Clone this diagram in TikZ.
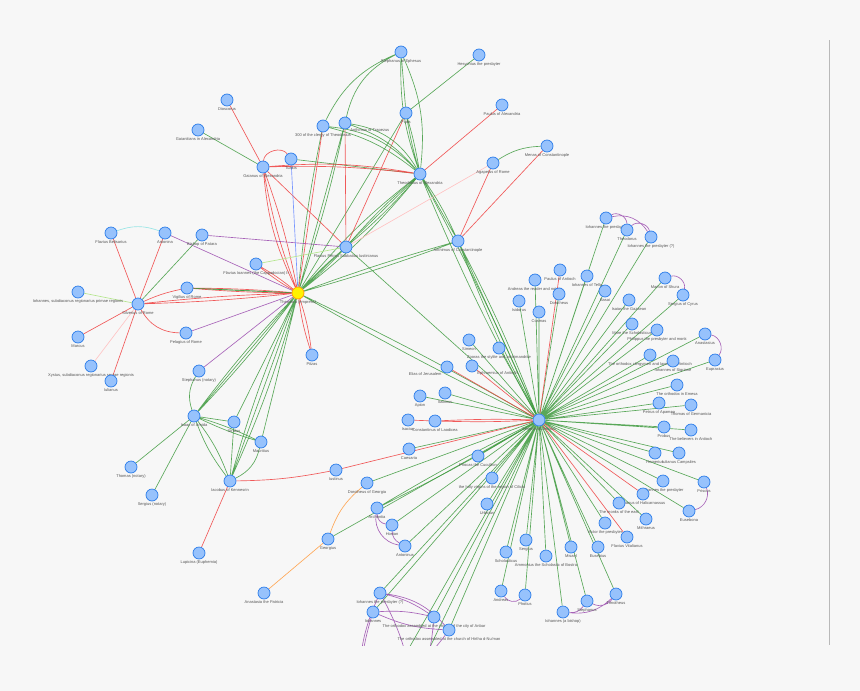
\documentclass[tikz,border=0pt]{standalone}
\usepackage{fontspec}
\setmainfont{Liberation Sans}
\usetikzlibrary{backgrounds}
\definecolor{nodeblue}{HTML}{97C2FC}
\definecolor{nodeedge}{HTML}{2B7CE9}
\definecolor{bggray}{HTML}{F7F7F7}
\definecolor{egreen}{HTML}{3E9A3E}
\definecolor{ered}{HTML}{F04848}
\definecolor{epurple}{HTML}{9A4AAE}
\definecolor{eorange}{HTML}{FFA858}
\definecolor{elgreen}{HTML}{B4E68C}
\definecolor{ecyan}{HTML}{9AE6E6}
\definecolor{epink}{HTML}{FFC4C4}
\definecolor{eblue}{HTML}{7896FF}
\definecolor{lblgray}{HTML}{555555}

\begin{document}
\begin{tikzpicture}[x=1pt, y=-1pt,
    person/.style={circle, draw=nodeedge, fill=nodeblue, line width=0.7pt, minimum size=12pt, inner sep=0pt},
    empress/.style={person, draw=orange!80!yellow, fill=yellow},
    lbl/.style={font=\fontsize{4}{4.5}\selectfont, text=lblgray, inner sep=0.8pt},
    gl/.style={egreen, line width=0.65pt, opacity=0.85},
    rl/.style={ered, line width=0.65pt, opacity=0.9},
    pl/.style={epurple, line width=0.65pt, opacity=0.85},
    ol/.style={eorange, line width=0.65pt}]

    \useasboundingbox (0,0) rectangle (860,691);

    % --- Nhóm trên: Alexandria ---
    \node[person, label={[lbl]below:Stephanus of Ephesus}] (steph) at (401,52) {};
    \node[person, label={[lbl]below:Hesychius the presbyter}] (hesy) at (479,55) {};
    \node[person, label={[lbl]below:Fuda}] (fuda) at (406,113) {};
    \node[person, label={[lbl]below:Paulus of Alexandria}] (paulal) at (502,105) {};
    \node[person, label={[lbl]below:Menas of Constantinople}] (menas) at (547,146) {};
    \node[person, label={[lbl]below:Agapetus of Rome}] (agap) at (493,163) {};
    \node[person, label={[lbl]below:Theodosius of Alexandria}] (theo) at (420,174) {};
    \node[person, label={[lbl]below:Dioscorus}] (dios) at (227,100) {};
    \node[person, label={[lbl]below:Gaianitians in Alexandria}] (gaiani) at (198,130) {};
    \node[person, label={[lbl]below:Gaianus of Alexandria}] (gaian) at (263,167) {};
    \node[person, label={[lbl]below:Tuakis}] (tuak) at (291,159) {};
    \node[person, label={[lbl]below:300 of the clergy of Theodosius}] (cler) at (323,126) {};
    \node[person, label={[lbl]below right:Anthimus of Trapezus}] (anthtr) at (345,123) {};
    \node[person, label={[lbl]below:Flavius Petrus Sabbatius Iustinianus}] (iust) at (346,247) {};
    \node[person, label={[lbl]below:Anthimus of Constantinople}] (anth) at (458,241) {};

    % --- Nhóm trái: Roma ---
    \node[person, label={[lbl]below:Flavius Belisarius}] (belis) at (111,233) {};
    \node[person, label={[lbl]below:Antonina}] (anton) at (165,233) {};
    \node[person, label={[lbl]below:Bishop of Patara}] (patara) at (202,235) {};
    \node[person, label={[lbl]below:Flavius Ioannes (the Cappadocian) II}] (fioann) at (256,264) {};
    \node[person, label={[lbl]below:Vigilius of Rome}] (vigil) at (187,288) {};
    \node[person, label={[lbl]below:Silverius of Rome}] (silv) at (138,304) {};
    \node[person, label={[lbl]below:Iohannes, subdiaconus regionarius primae regionis}] (johsub) at (78,292) {};
    \node[person, label={[lbl]below:Pelagius of Rome}] (pelag) at (186,333) {};
    \node[person, label={[lbl]below:Marcus}] (marcus) at (78,337) {};
    \node[person, label={[lbl]below:Xystus, subdiaconus regionarius sextae regionis}] (xystus) at (91,366) {};
    \node[person, label={[lbl]below:Iulianus}] (iulian) at (111,381) {};
    \node[person, label={[lbl]below:Stephanus (notary)}] (stephn) at (199,371) {};
    \node[empress, label={[lbl]below:Theodora (empress)}] (theod) at (298,293) {};
    \node[person, label={[lbl]below:Pitzas}] (pitzas) at (312,355) {};

    % --- Nhóm dưới trái ---
    \node[person, label={[lbl]below:Isaac of Amida}] (isaac) at (194,416) {};
    \node[person, label={[lbl]below:Stratus}] (stratus) at (234,422) {};
    \node[person, label={[lbl]below:Mauritius}] (mauric) at (261,442) {};
    \node[person, label={[lbl]below:Thomas (notary)}] (thomn) at (131,467) {};
    \node[person, label={[lbl]below:Sergius (notary)}] (sergn) at (152,495) {};
    \node[person, label={[lbl]below:Iacobus of Kennesrin}] (iacob) at (230,481) {};
    \node[person, label={[lbl]below:Lupicina (Euphemia)}] (lupic) at (199,553) {};
    \node[person, label={[lbl]below:Iustinus}] (iustin) at (336,470) {};
    \node[person, label={[lbl]below:Georgius}] (georg) at (328,539) {};
    \node[person, label={[lbl]below:Anastasia the Patricia}] (anast) at (264,593) {};
    \node[person, label={[lbl]below:Dorotheus of Georgia}] (dorg) at (367,483) {};

    % --- Trung tâm: Severus ---
    \node[person, label={[lbl]below:Severus of Antioch}] (hub) at (539,420) {};
    \node[person, label={[lbl]below:Paulus of Antioch}] (paulant) at (560,270) {};
    \node[person, label={[lbl]below:Andreas the reader and notary}] (andrn) at (535,280) {};
    \node[person, label={[lbl]below:Isidorus}] (isid) at (519,301) {};
    \node[person, label={[lbl]below:Dorotheus}] (dorot) at (559,294) {};
    \node[person, label={[lbl]below:Cosmas}] (cosmas) at (539,312) {};
    \node[person, label={[lbl]below:Simeon}] (simeon) at (469,340) {};
    \node[person, label={[lbl]below:Zooras the stylite and archimandrite}] (zooras) at (499,348) {};
    \node[person, label={[lbl]below left:Elias of Jerusalem}] (cyrus) at (447,367) {};
    \node[person, label={[lbl]below right:Ephraemius of Antioch}] (ephr) at (472,366) {};
    \node[person, label={[lbl]below:Apion}] (apion) at (420,396) {};
    \node[person, label={[lbl]below:Sabinus}] (sabin) at (445,393) {};
    \node[person, label={[lbl]below:Isacius}] (isac) at (408,420) {};
    \node[person, label={[lbl]below:Constantinus of Laodicea}] (const) at (435,421) {};
    \node[person, label={[lbl]below:Caesaria}] (caes) at (409,449) {};
    \node[person, label={[lbl]below:Phocas the Cucullion}] (phocas) at (478,456) {};
    \node[person, label={[lbl]below:the holy virgins of the region of Cilicia}] (virg) at (492,478) {};
    \node[person, label={[lbl]below:Urbicius}] (urbic) at (487,504) {};
    \node[person, label={[lbl]below:Archontia}] (archon) at (377,508) {};
    \node[person, label={[lbl]below:Hosian}] (hosian) at (392,525) {};
    \node[person, label={[lbl]below:Antoninus}] (antonin) at (405,546) {};

    % --- Nhóm phải ---
    \node[person, label={[lbl]below:Iohannes the presbyter}] (iohpr) at (606,218) {};
    \node[person, label={[lbl]below:Theodorus}] (theodor) at (627,230) {};
    \node[person, label={[lbl]below:Iohannes the presbyter (?)}] (iohprq) at (651,237) {};
    \node[person, label={[lbl]below:Iohannes of Tella}] (iohtel) at (587,276) {};
    \node[person, label={[lbl]below:Basai}] (basai) at (605,291) {};
    \node[person, label={[lbl]below:Marion of Shura}] (marion) at (665,278) {};
    \node[person, label={[lbl]below:Sergius of Cyrus}] (sergcyr) at (683,295) {};
    \node[person, label={[lbl]below:Isaias the Gazaean}] (gaza) at (629,300) {};
    \node[person, label={[lbl]below:Mare the Scholasticus}] (mare) at (632,324) {};
    \node[person, label={[lbl]below:Philippus the presbyter and monk}] (phil) at (657,330) {};
    \node[person, label={[lbl]below:Anastasius}] (anastas) at (705,334) {};
    \node[person, label={[lbl]below:Eupraxius}] (eupr) at (715,360) {};
    \node[person, label={[lbl]below:The orthodox clergymen and laymen of Antioch}] (orthant) at (650,355) {};
    \node[person, label={[lbl]below:Iohannes of Sigriane}] (iohsig) at (673,361) {};
    \node[person, label={[lbl]below:The orthodox in Emesa}] (emesa) at (677,385) {};
    \node[person, label={[lbl]below:Petrus of Apamea}] (petrap) at (659,403) {};
    \node[person, label={[lbl]below:Thomas of Germanicia}] (thomger) at (691,405) {};
    \node[person, label={[lbl]below:Probus}] (probus) at (664,427) {};
    \node[person, label={[lbl]below:The believers in Antioch}] (beliant) at (691,430) {};
    \node[person, label={[lbl]below:Hemerius}] (hemer) at (655,453) {};
    \node[person, label={[lbl]below:Iulianus Campsiles}] (camps) at (679,453) {};
    \node[person, label={[lbl]below:Iohannes the presbyter}] (iohpr3) at (663,481) {};
    \node[person, label={[lbl]below:Priscus}] (priscus) at (704,482) {};
    \node[person, label={[lbl]below:Iulianus of Halicarnassus}] (iulhal) at (643,494) {};
    \node[person, label={[lbl]below:The monks of the east}] (monks) at (619,503) {};
    \node[person, label={[lbl]below:Mithraeus}] (mithr) at (646,519) {};
    \node[person, label={[lbl]below:Eusebona}] (euseb) at (689,511) {};
    \node[person, label={[lbl]below:Victor the presbyter}] (victor) at (605,523) {};
    \node[person, label={[lbl]below:Flavius Vitalianus}] (vital) at (627,537) {};

    % --- Nhóm dưới ---
    \node[person, label={[lbl]below:Misael}] (misael) at (571,547) {};
    \node[person, label={[lbl]below:Eusebius}] (eusebius) at (598,547) {};
    \node[person, label={[lbl]below:Scholasticus}] (schol) at (506,552) {};
    \node[person, label={[lbl]below:Sergius}] (sergius) at (526,540) {};
    \node[person, label={[lbl]below:Ammonius the Scholastic of Bostra}] (ammon) at (546,556) {};
    \node[person, label={[lbl]below:Andreas}] (andreas) at (501,591) {};
    \node[person, label={[lbl]below:Photius}] (photius) at (525,595) {};
    \node[person, label={[lbl]below:Iohannes (a bishop)}] (iohbis) at (563,612) {};
    \node[person, label={[lbl]below:Stephanus}] (steph2) at (587,601) {};
    \node[person, label={[lbl]below:Timotheus}] (timoth) at (616,594) {};
    \node[person, label={[lbl]below:Iohannes the presbyter (?)}] (iohq) at (380,593) {};
    \node[person, label={[lbl]below:Iohannes}] (iohan) at (373,612) {};
    \node[person, label={[lbl]below:The orthodox assembled at the church of the city of Anbar}] (anbar) at (434,617) {};
    \node[person, label={[lbl]below:The orthodox assembled at the church of Hirtha d-Nu'man}] (hirta) at (449,630) {};

    % điểm ngoài khung (bị cắt)
    \coordinate (offa) at (368,720);
    \coordinate (offb) at (395,720);
    \coordinate (offc) at (362,700);
    \coordinate (offd) at (412,700);

    \begin{pgfonlayer}{background}
    \fill[bggray] (0,0) rectangle (860,691);
    \draw[gray!55, line width=0.9pt] (829,40) -- (829,645);
    \begin{scope}
    \clip (0,0) rectangle (829,645);

    % --- Cạnh xanh lá từ Severus ---
    \draw[gl] (hub) -- (isid) (hub) -- (andrn) (hub) -- (dorot) (hub) -- (cosmas) (hub) -- (iohtel)
        (hub) -- (iohpr) (hub) -- (theodor) (hub) -- (iohprq) (hub) -- (basai) (hub) -- (marion)
        (hub) -- (sergcyr) (hub) -- (gaza) (hub) -- (mare) (hub) -- (phil) (hub) -- (anastas)
        (hub) -- (eupr) (hub) -- (orthant) (hub) -- (iohsig) (hub) -- (emesa) (hub) -- (petrap)
        (hub) -- (thomger) (hub) -- (probus) (hub) -- (beliant) (hub) -- (hemer) (hub) -- (camps)
        (hub) -- (iohpr3) (hub) -- (priscus) (hub) -- (monks) (hub) -- (mithr) (hub) -- (euseb)
        (hub) -- (victor) (hub) -- (misael) (hub) -- (eusebius) (hub) -- (schol) (hub) -- (sergius)
        (hub) -- (ammon) (hub) -- (andreas) (hub) -- (photius) (hub) -- (iohbis) (hub) -- (steph2)
        (hub) -- (timoth) (hub) -- (iohq) (hub) -- (iohan) (hub) -- (anbar) (hub) -- (hirta)
        (hub) -- (antonin) (hub) -- (hosian) (hub) -- (dorg) (hub) -- (georg) (hub) -- (caes)
        (hub) -- (phocas) (hub) -- (virg) (hub) -- (urbic) (hub) -- (simeon) (hub) -- (zooras)
        (hub) -- (apion) (hub) -- (sabin) (hub) -- (iust) (hub) -- (offa) (hub) -- (offb);
    \draw[gl] (hub) to[bend left=2] (archon) (hub) to[bend right=2] (archon);
    \draw[gl] (hub) to[bend left=2] (theod) (hub) to[bend right=2] (theod);
    \draw[gl] (hub) to[bend left=3] (anth) (hub) -- (anth) (hub) to[bend right=3] (anth);
    \draw[gl] (hub) to[bend left=3] (theo) (hub) to[bend right=2] (theo);

    % --- Cạnh đỏ từ Severus ---
    \draw[rl] (hub) -- (paulant) (hub) -- (cyrus) (hub) -- (ephr) (hub) -- (iulhal) (hub) -- (vital)
        (hub) -- (iustin) (isac) -- (const);
    \draw[rl] (hub) to[bend left=2] (const) (hub) to[bend right=2] (const);

    % --- Theodora ---
    \draw[gl] (theod) to[bend left=3] (iust) (theod) to[bend right=3] (iust)
        (theod) to[bend left=2] (anth) (theod) to[bend right=2] (anth)
        (theod) to[bend left=6] (theo) (theod) -- (theo) (theod) to[bend right=6] (theo)
        (theod) to[bend left=3] (cler) (theod) to[bend right=3] (anthtr) (theod) -- (anthtr)
        (theod) -- (fuda) (theod) -- (vigil) (theod) -- (stratus) (theod) -- (mauric)
        (theod) to[bend left=3] (isaac) (theod) -- (isaac) (theod) to[bend right=3] (isaac)
        (theod) to[bend left=4] (iacob) (theod) -- (iacob) (theod) to[bend right=4] (iacob);
    \draw[rl] (theod) to[bend left=5] (gaian) (theod) to[bend left=10] (gaian) (theod) to[bend right=4] (gaian)
        (theod) to[bend left=2] (vigil) (theod) to[bend right=2] (vigil)
        (theod) to[bend left=2] (silv) (theod) to[bend right=2] (silv)
        (theod) to[bend left=4] (fioann) (theod) to[bend right=4] (fioann)
        (theod) to[bend left=5] (pitzas) (theod) to[bend right=5] (pitzas)
        (theod) -- (cler) (anthtr) -- (iust) (fuda) -- (iust) (gaian) -- (iust);
    \draw[pl] (theod) -- (pelag) (theod) -- (stephn) (theod) -- (anton) (patara) -- (iust);
    \draw[eblue, line width=0.65pt] (theod) -- (tuak);
    \draw[elgreen, line width=0.65pt] (fioann) -- (iust);
    \draw[epink, line width=0.65pt] (iust) -- (agap);

    % --- Theodosius, Gaianus ---
    \draw[gl] (theo) to[bend right=15] (steph) (theo) to[bend left=10] (steph)
        (theo) to[bend left=3] (fuda) (theo) to[bend right=3] (fuda)
        (theo) to[bend right=20] (cler) (theo) to[bend right=12] (cler) (theo) to[bend right=25] (anthtr)
        (theo) to[bend right=15] (anthtr) (theo) to[bend left=4] (iust) (theo) to[bend right=4] (iust)
        (steph) to[bend right=20] (cler) (steph) to[bend right=25] (anthtr) (steph) -- (fuda)
        (fuda) -- (hesy) (tuak) -- (theo) (gaian) -- (gaiani) (theo) -- (anth)
        (theo) to[bend left=5] (anth) (agap) to[bend left=15] (menas);
    \draw[rl] (theo) -- (paulal) (gaian) -- (dios) (gaian) to[bend left=70] (tuak)
        (gaian) to[bend left=4] (theo) (gaian) to[bend left=7] (theo)
        (agap) -- (anth) (menas) -- (anth);

    % --- Silverius ---
    \draw[rl] (silv) -- (belis) (silv) -- (anton) (silv) -- (marcus) (silv) -- (iulian)
        (silv) to[bend left=6] (vigil) (silv) to[bend right=30] (pelag);
    \draw[gl] (silv) -- (patara) (vigil) -- (theod);
    \draw[elgreen, line width=0.65pt] (silv) -- (johsub);
    \draw[epink, line width=0.65pt] (silv) -- (xystus);
    \draw[ecyan, line width=0.65pt] (belis) to[bend left=20] (anton);

    % --- Isaac, Iacobus ---
    \draw[gl] (isaac) -- (thomn) (isaac) -- (sergn) (isaac) -- (stratus)
        (isaac) to[bend left=4] (mauric) (isaac) to[bend right=4] (mauric)
        (isaac) to[bend left=8] (iacob) (isaac) to[bend right=8] (iacob)
        (iacob) -- (stratus) (iacob) to[bend right=25] (mauric) (stephn) to[bend right=25] (isaac);
    \draw[rl] (iacob) -- (lupic) (iacob) to[bend right=5] (iustin);
    \draw[ol] (dorg) to[bend right=15] (georg) (georg) -- (anast);

    % --- Cung tím ---
    \draw[pl] (iohpr) to[bend left=60] (theodor) (iohpr) to[bend left=35] (iohprq)
        (theodor) to[bend left=60] (iohprq) (marion) to[bend left=60] (sergcyr)
        (anastas) to[bend left=60] (eupr) (priscus) to[bend left=50] (euseb)
        (andreas) to[bend right=50] (photius) (iohbis) to[bend right=30] (steph2)
        (iohbis) to[bend right=25] (timoth) (steph2) to[bend right=40] (timoth)
        (archon) to[bend right=40] (hosian) (archon) to[bend right=45] (antonin) (hosian) to[bend right=30] (antonin)
        (iohq) to[bend left=10] (anbar) (iohq) to[bend left=20] (hirta) (iohan) to[bend left=8] (anbar)
        (iohan) to[bend right=10] (hirta) (iohq) to[bend right=15] (offc) (iohan) to[bend right=10] (offc)
        (anbar) to[bend left=10] (offd) (hirta) to[bend left=15] (offc) (iohq) to[bend left=12] (offd);
    \end{scope}
    \end{pgfonlayer}
\end{tikzpicture}
\end{document}
